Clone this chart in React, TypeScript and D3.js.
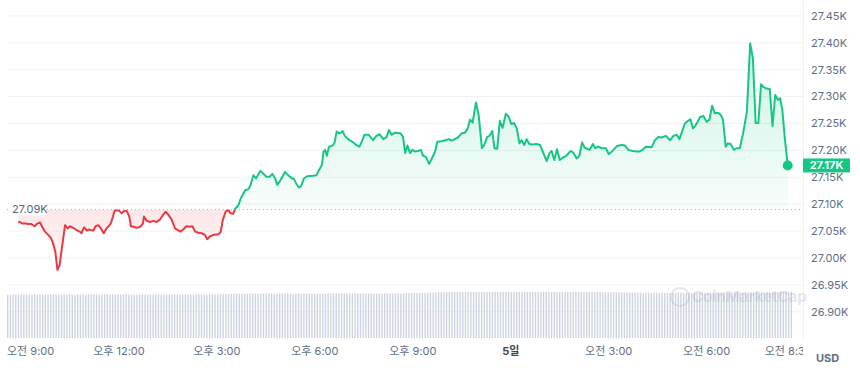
import React from "react";
import * as d3 from "d3";

// time in minutes after 08:00 (day 4), price in USD
const minutes = [
  55,58,62,68,74,79,85,90,95,99,
  104,110,115,118,123,127,131,135,141,146,
  150,156,162,168,171,176,181,184,188,193,
  197,202,207,212,217,220,225,229,232,236,
  240,245,249,254,259,262,267,273,279,284,
  286,291,297,303,309,315,321,326,331,337,
  343,353,358,364,370,375,380,386,392,398,
  402,407,414,423,427,431,436,441,445,450,
  454,459,464,472,478,482,487,492,497,500,
  505,511,517,522,527,531,537,545,551,558,
  561,567,571,575,580,586,597,603,608,613,
  616,619,622,626,631,636,640,644,648,651,
  655,661,669,676,682,686,691,699,707,713,
  719,726,732,736,741,747,757,762,766,770,
  775,779,784,790,795,799,804,810,815,821,
  825,833,840,846,851,857,863,870,876,881,
  885,890,896,901,907,911,917,921,926,930,
  935,940,945,951,956,961,966,971,976,980,
  985,989,994,1000,1007,1014,1020,1026,1031,1035,
  1040,1045,1050,1055,1062,1070,1075,1081,1086,1091,
  1096,1105,1111,1115,1121,1127,1135,1140,1147,1155,
  1164,1170,1176,1184,1192,1197,1203,1209,1219,1225,
  1231,1237,1245,1253,1259,1265,1270,1280,1286,1290,
  1295,1300,1308,1314,1320,1325,1330,1335,1341,1346,
  1350,1355,1359,1364,1370,1375,1381,1387,1394,1400,
  1405,1410,1415,1420,1424,1430,1436,1441,1446,1451,
  1455,1459,1464,1469,
];

const prices = [
  27066,27067,27064,27064,27063,27063,27059,27064,27066,27058,
  27049,27043,27037,27030,27012,26978,26987,27018,27061,27055,
  27059,27056,27052,27049,27046,27057,27051,27053,27052,27051,
  27059,27061,27055,27046,27055,27058,27064,27077,27088,27089,
  27088,27083,27087,27088,27077,27059,27058,27056,27058,27064,
  27077,27069,27067,27069,27067,27071,27080,27086,27080,27071,
  27055,27049,27053,27059,27058,27059,27049,27047,27046,27043,
  27035,27040,27043,27044,27049,27071,27086,27089,27083,27082,
  27092,27097,27111,27126,27128,27136,27154,27148,27157,27162,
  27157,27151,27151,27156,27148,27136,27145,27160,27154,27148,
  27148,27136,27131,27134,27148,27152,27153,27154,27164,27173,
  27198,27201,27190,27207,27208,27213,27235,27232,27233,27236,
  27227,27221,27216,27210,27207,27216,27229,27229,27219,27227,
  27230,27221,27225,27238,27229,27233,27232,27225,27195,27209,
  27195,27201,27198,27199,27201,27190,27188,27175,27185,27198,
  27216,27217,27219,27221,27218,27221,27224,27232,27233,27241,
  27257,27252,27289,27266,27204,27210,27225,27227,27236,27204,
  27203,27255,27242,27268,27263,27249,27251,27241,27213,27219,
  27210,27221,27212,27211,27212,27210,27195,27180,27195,27199,
  27182,27202,27182,27186,27190,27199,27196,27185,27190,27215,
  27205,27201,27212,27204,27207,27204,27204,27193,27199,27208,
  27210,27209,27201,27199,27198,27198,27202,27207,27206,27219,
  27225,27224,27227,27219,27227,27229,27221,27250,27255,27258,
  27241,27247,27262,27264,27253,27257,27283,27269,27270,27266,
  27257,27207,27213,27212,27201,27204,27204,27232,27272,27399,
  27371,27251,27251,27323,27318,27315,27314,27245,27303,27294,
  27297,27276,27219,27172,
];

// 24h volume (billions USD), one bar per 5 minutes
const volumes = [
  14.5,14.4,14.5,14.5,14.4,14.6,14.5,14.4,14.5,14.5,14.6,14.4,
  14.5,14.5,14.4,14.5,14.6,14.5,14.4,14.5,14.5,14.4,14.5,14.6,
  14.5,14.4,14.5,14.5,14.5,14.4,14.6,14.5,14.5,14.4,14.5,14.5,
  14.6,14.5,14.4,14.5,14.5,14.5,14.4,14.5,14.6,14.5,14.5,14.4,
  14.5,14.5,14.6,14.5,14.4,14.5,14.5,14.5,14.6,14.4,14.5,14.5,
  14.5,14.6,14.5,14.4,14.5,14.5,14.6,14.5,14.5,14.4,14.5,14.6,
  14.5,14.5,14.4,14.5,14.6,14.5,14.5,14.6,14.7,14.6,14.7,14.7,
  14.8,14.7,14.8,14.8,14.7,14.8,14.9,14.8,14.8,14.7,14.8,14.9,
  14.8,14.8,14.9,14.8,14.7,14.8,14.8,14.9,14.8,14.8,14.7,14.8,
  14.9,14.8,14.8,14.9,14.8,14.8,14.7,14.8,14.9,14.8,14.8,14.9,
  14.8,14.9,14.8,14.8,14.9,14.8,14.7,14.8,14.8,14.9,14.8,14.8,
  14.9,14.8,14.8,14.9,14.8,14.9,14.8,14.8,14.9,14.9,14.8,14.9,
  14.9,15.0,14.9,14.9,15.0,15.0,14.9,15.0,15.0,15.0,14.9,15.0,
  15.1,15.1,15.2,15.2,15.3,15.3,15.2,15.3,15.3,15.4,15.3,15.3,
  15.4,15.3,15.3,15.4,15.3,15.4,15.4,15.3,15.4,15.3,15.4,15.4,
  15.3,15.4,15.4,15.3,15.4,15.4,15.3,15.4,15.4,15.3,15.4,15.4,
  15.4,15.3,15.4,15.4,15.3,15.4,15.3,15.4,15.4,15.4,15.3,15.4,
  15.3,15.4,15.4,15.3,15.4,15.3,15.4,15.4,15.3,15.4,15.3,15.3,
  15.4,15.3,15.3,15.4,15.3,15.3,15.2,15.3,15.3,15.2,15.2,15.3,
  15.2,15.1,15.2,15.1,15.1,15.2,15.1,15.1,15.0,15.1,15.1,15.0,
  15.1,15.0,15.1,15.1,15.0,15.1,15.0,15.0,15.1,15.0,15.1,15.1,
  15.0,15.1,15.1,15.0,15.1,15.1,15.2,15.1,15.1,15.2,15.1,15.2,
  15.2,15.1,15.2,15.2,15.1,15.2,15.2,15.3,15.2,15.2,15.3,15.2,
  15.3,15.2,15.3,15.3,15.2,15.3,15.3,15.4,15.3,15.3,15.4,15.4,
  15.3,15.4,15.4,15.4,
];

const yTicks = [26900, 26950, 27000, 27050, 27100, 27150, 27200, 27250, 27300, 27350, 27400, 27450];
const xTickMinutes = [60, 240, 420, 600, 780, 960, 1140, 1320, 1470];
const xTickLabels = ["오전 9:00", "오후 12:00", "오후 3:00", "오후 6:00", "오후 9:00", "5일", "오전 3:00", "오전 6:00", "오전 8:30"];
const baselinePrice = 27090;
const currency = "USD";

const GREEN = "#16c784";
const RED = "#ea3943";
const FONT = "Inter, 'Noto Sans CJK KR', 'Noto Sans', sans-serif";

const fmtK = (v: number) => (v / 1000).toFixed(2) + "K";

export default function App() {
  const W = 860, H = 372;
  const plotL = 7, plotR = 803, plotB = 338;

  const x = d3.scaleLinear().domain([60, 1320]).range([21, 706.65]);
  const y = d3.scaleLinear().domain([27000, 27450]).range([258, 15.9]);
  const yv = d3.scaleLinear().domain([0, 16]).range([plotB, 290]);
  const xb = d3.scaleBand<number>().domain(volumes.map((_, i) => i)).range([plotL, 792]).paddingInner(0.5);

  const n = Math.min(minutes.length, prices.length);
  const data = d3.range(n).map((i) => ({ m: minutes[i], p: prices[i] }));
  const yBase = y(baselinePrice);

  const line = d3.line<{ m: number; p: number }>().x((d) => x(d.m)).y((d) => y(d.p));
  const area = d3.area<{ m: number; p: number }>().x((d) => x(d.m)).y0(yBase).y1((d) => y(d.p));
  const last = data[data.length - 1];

  return (
    <svg width={W} height={H} style={{ position: "fixed", left: 0, top: 0, background: "#fff" }} fontFamily={FONT}>
      <defs>
        <clipPath id="above"><rect x={0} y={0} width={W} height={yBase} /></clipPath>
        <clipPath id="below"><rect x={0} y={yBase} width={W} height={H - yBase} /></clipPath>
        <clipPath id="plotClip"><rect x={0} y={0} width={plotR} height={H} /></clipPath>
        <linearGradient id="gGreen" gradientUnits="userSpaceOnUse" x1={0} y1={y(27400)} x2={0} y2={yBase}>
          <stop offset="0" stopColor={GREEN} stopOpacity={0.22} />
          <stop offset="1" stopColor={GREEN} stopOpacity={0.03} />
        </linearGradient>
        <linearGradient id="gRed" gradientUnits="userSpaceOnUse" x1={0} y1={yBase} x2={0} y2={y(26970)}>
          <stop offset="0" stopColor={RED} stopOpacity={0.12} />
          <stop offset="1" stopColor={RED} stopOpacity={0.02} />
        </linearGradient>
      </defs>

      {/* grid */}
      {yTicks.map((t) => (
        <line key={t} x1={plotL} x2={plotR} y1={y(t)} y2={y(t)} stroke="#eff2f5" strokeWidth={1} />
      ))}
      <line x1={plotR + 0.5} x2={plotR + 0.5} y1={0} y2={plotB + 2} stroke="#eff2f5" strokeWidth={1} />

      {/* volume bars */}
      {volumes.map((v, i) => (
        <rect key={i} x={xb(i)!} y={yv(v)} width={xb.bandwidth()} height={plotB - yv(v)} fill="#cbd3e1" />
      ))}

      {/* watermark */}
      <g opacity={0.22}>
        <circle cx={680} cy={297} r={9} fill="none" stroke="#8a96ab" strokeWidth={2} />
        <text x={692} y={302} fontSize={15} fontWeight={700} fill="#8a96ab">CoinMarketCap</text>
      </g>

      {/* fills */}
      <path d={area(data)!} fill="url(#gGreen)" clipPath="url(#above)" />
      <path d={area(data)!} fill="url(#gRed)" clipPath="url(#below)" />

      {/* baseline */}
      <line x1={plotL} x2={plotR} y1={yBase} y2={yBase} stroke="#a6b0c3" strokeWidth={1} strokeDasharray="1,3" />

      {/* price line */}
      <path d={line(data)!} fill="none" stroke={GREEN} strokeWidth={2} strokeLinejoin="round" clipPath="url(#above)" />
      <path d={line(data)!} fill="none" stroke={RED} strokeWidth={2} strokeLinejoin="round" clipPath="url(#below)" />

      {/* baseline label */}
      <rect x={10} y={yBase - 7} width={36} height={13} fill="#fff" />
      <text x={12} y={yBase} dy="0.35em" fontSize={11} fill="#58667e">{fmtK(baselinePrice)}</text>

      {/* end dot */}
      <circle cx={x(last.m)} cy={y(last.p)} r={5} fill={GREEN} />

      {/* y axis labels */}
      {yTicks.map((t) => (
        <text key={t} x={811} y={y(t)} dy="0.35em" fontSize={11} fill="#616e85">{fmtK(t)}</text>
      ))}

      {/* current price label */}
      <rect x={plotR} y={y(last.p) - 7} width={47} height={14} fill={GREEN} />
      <text x={plotR + 23.5} y={y(last.p)} dy="0.35em" textAnchor="middle" fontSize={11} fontWeight={700} fill="#fff">{fmtK(last.p)}</text>

      {/* x axis labels */}
      <g clipPath="url(#plotClip)">
        {xTickMinutes.map((m, i) => (
          <text
            key={m}
            x={i === 0 ? plotL : x(m)}
            y={351}
            dy="0.35em"
            textAnchor={i === 0 ? "start" : "middle"}
            fontSize={11}
            fontWeight={xTickLabels[i] === "5일" ? 700 : 400}
            fill={xTickLabels[i] === "5일" ? "#3f4654" : "#616e85"}
          >
            {xTickLabels[i]}
          </text>
        ))}
      </g>

      <text x={816} y={358} dy="0.35em" fontSize={11} fontWeight={700} fill="#616e85">{currency}</text>
    </svg>
  );
}
